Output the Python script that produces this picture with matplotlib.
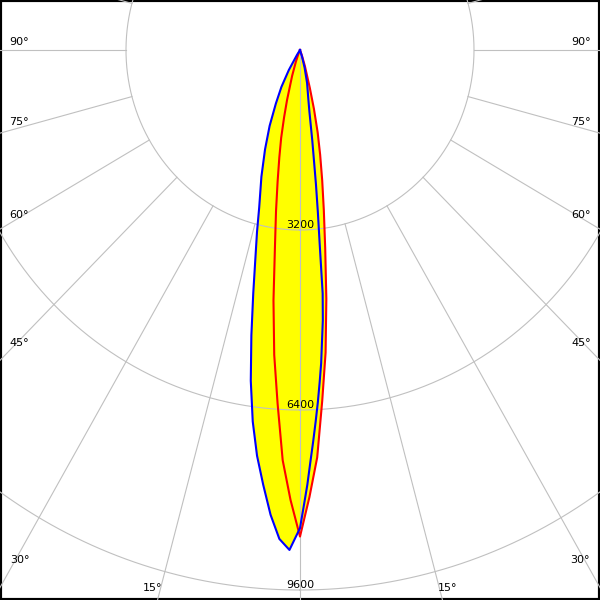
import matplotlib
matplotlib.use("Agg")
import matplotlib.pyplot as plt
import numpy as np

# C0-C180 plane (blue), gamma angle in degrees (negative = left side), intensity in cd
blue_angles = [-35, -32.5, -30, -27.5, -25, -22.5, -20, -17.5, -15, -13.75, -12.5, -11.25,
               -10, -8.75, -7.5, -6.25, -5, -3.75, -2.5, -1.25, 0, 0.5, 1, 1.5, 2, 2.5, 3,
               3.5, 4, 4.5, 5, 5.5, 6, 6.5, 7, 7.5, 8, 9, 10, 12.5, 15, 17.5, 20]
blue_cd = [0, 100, 410, 740, 1050, 1460, 1880, 2360, 2900, 3325, 3790, 4406,
           5150, 5950, 6660, 7257, 7760, 8280, 8700, 8890, 8500, 8100, 7730, 7320, 6960, 6610, 6270,
           5920, 5580, 5170, 4820, 4350, 3460, 2900, 2410, 1940, 1620, 1100, 880, 600, 330, 120, 0]

# C90-C270 plane (red)
red_angles = [-25, -22.5, -20, -17.5, -15, -13.75, -12.5, -11.25, -10, -8.75, -7.5, -6.25,
              -5, -3.75, -2.5, -1.25, 0, 1.25, 2.5, 3.75, 5, 6.25, 7.5, 8.75, 10, 11.25,
              12.5, 13.75, 15, 17.5, 20, 22.5]
red_cd = [0, 80, 220, 480, 920, 1230, 1600, 1950, 2370, 2900, 3530, 4480,
          5440, 6300, 7300, 8000, 8650, 7950, 7250, 6250, 5400, 4450, 3550, 2880, 2350, 1900,
          1500, 1080, 700, 300, 100, 0]

ring_values = [3200, 6400, 9600]
angle_labels = ["15°", "30°", "45°", "60°", "75°", "90°"]

# px -> cd scale of the original drawing (slightly different in x and y)
cd_per_px_x = 3200 / 174
cd_per_px_y = 3200 / 180


def to_xy(angles, cd):
    a = np.radians(angles)
    cd = np.asarray(cd, dtype=float)
    return cd * np.sin(a), -cd * np.cos(a)


fig = plt.figure(figsize=(6, 6), dpi=100)
ax = fig.add_axes([0, 0, 1, 1])
ax.set_xlim(-300 * cd_per_px_x, 300 * cd_per_px_x)
ax.set_ylim(-550 * cd_per_px_y, 50 * cd_per_px_y)
ax.set_xticks([])
ax.set_yticks([])
for s in ax.spines.values():
    s.set_color("black")
    s.set_linewidth(3)

grid_col = "#c0c0c0"

# filled curves
bx, by = to_xy(blue_angles, blue_cd)
rx, ry = to_xy(red_angles, red_cd)
ax.fill(bx, by, color="#ffff00", zorder=1, lw=0)
ax.fill(rx, ry, color="#ffff00", zorder=1, lw=0)

# rings
t = np.linspace(0, 360, 721)
for r in ring_values:
    x, y = to_xy(t, np.full_like(t, r))
    ax.plot(x, y, color=grid_col, lw=0.8, zorder=3)
    ax.annotate(str(r), (0, -r), xytext=(0, 3.5), textcoords="offset points",
                ha="center", va="center", fontsize=8, zorder=2)

# radial lines
for a in range(-180, 181, 15):
    r0 = 0 if a == 0 else ring_values[0]
    x, y = to_xy([a, a], [r0, 20000])
    ax.plot(x, y, color=grid_col, lw=0.8, zorder=3)

# curves
ax.plot(bx, by, color="#0000ff", lw=1.5, zorder=5)
ax.plot(rx, ry, color="#ff0000", lw=1.5, zorder=4)

# angle labels along the frame (pixel layout)
label_pos = [(143, 588), (10, 560), (9, 343), (9, 215), (9, 122), (9, 42)]
for txt, (px, py) in zip(angle_labels, label_pos):
    ax.text(px / 600, 1 - py / 600, txt, transform=ax.transAxes,
            ha="left", va="center", fontsize=8)
    ax.text(1 - px / 600, 1 - py / 600, txt, transform=ax.transAxes,
            ha="right", va="center", fontsize=8)

fig.savefig("out.png", dpi=100)
